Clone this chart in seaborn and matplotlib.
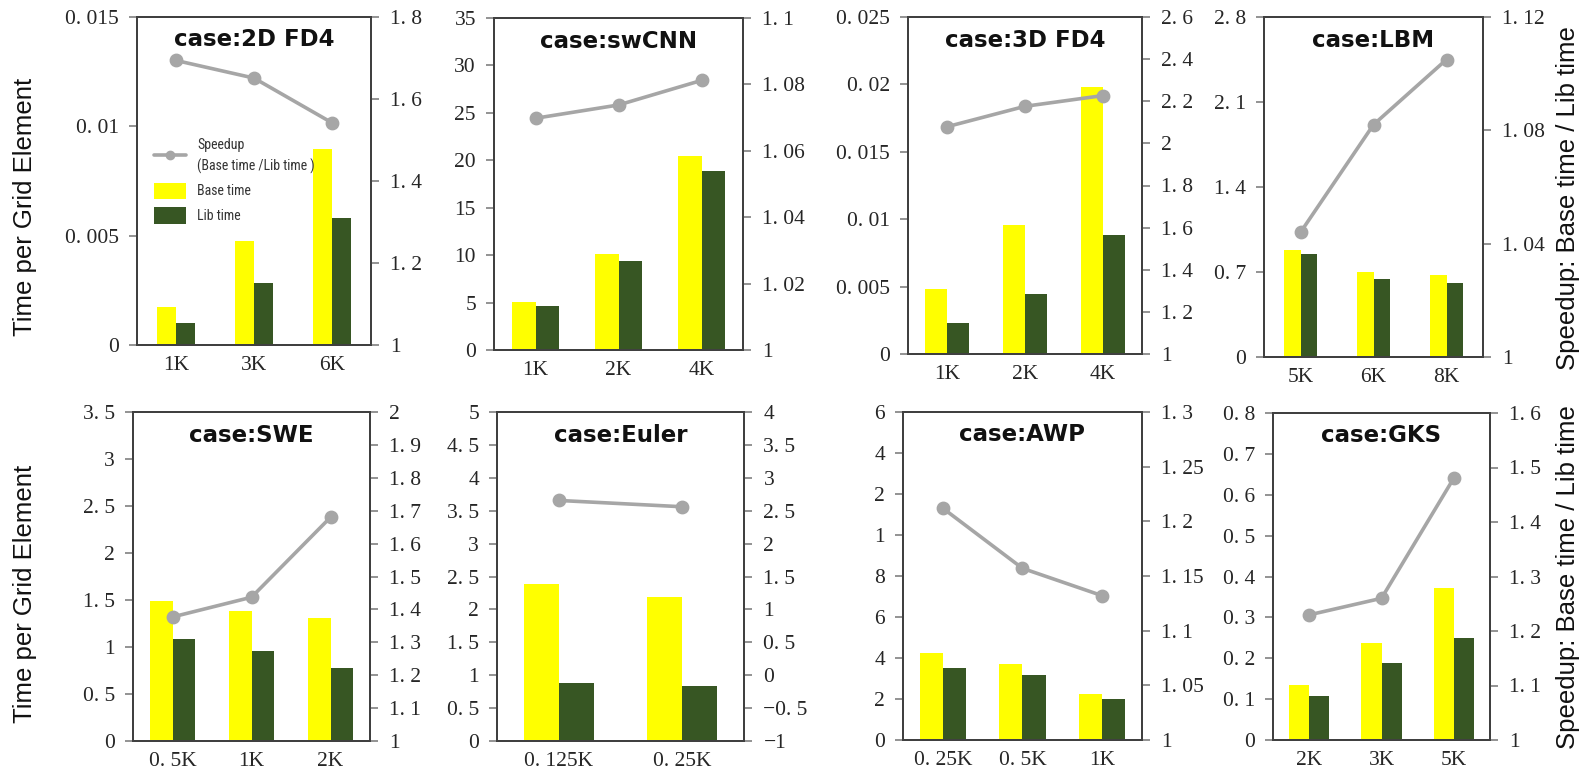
import matplotlib
matplotlib.use("Agg")
import matplotlib.pyplot as plt
import seaborn as sns
import pandas as pd
from matplotlib.lines import Line2D
from matplotlib.patches import Patch
from matplotlib import font_manager

sns.set_theme(style="white")
plt.rcParams['font.family'] = ['Liberation Serif', 'DejaVu Serif']

# ---------------- data ----------------
title_2dfd4 = "case:2D FD4"
cats_2dfd4 = ["1K", "3K", "6K"]
base_2dfd4 = [0.00174, 0.00477, 0.00895]
lib_2dfd4 = [0.00102, 0.00285, 0.0058]
speed_2dfd4 = [1.694, 1.651, 1.542]
lticks_2dfd4 = [0, 0.005, 0.01, 0.015]
rticks_2dfd4 = [1, 1.2, 1.4, 1.6, 1.8]

title_swcnn = "case:swCNN"
cats_swcnn = ["1K", "2K", "4K"]
base_swcnn = [5.07, 10.17, 20.44]
lib_swcnn = [4.68, 9.39, 18.82]
speed_swcnn = [1.0698, 1.0738, 1.0812]
lticks_swcnn = [0, 5, 10, 15, 20, 25, 30, 35]
rticks_swcnn = [1, 1.02, 1.04, 1.06, 1.08, 1.1]

title_3dfd4 = "case:3D FD4"
cats_3dfd4 = ["1K", "2K", "4K"]
base_3dfd4 = [0.00479, 0.00958, 0.01979]
lib_3dfd4 = [0.00233, 0.00442, 0.00884]
speed_3dfd4 = [2.079, 2.176, 2.227]
lticks_3dfd4 = [0, 0.005, 0.01, 0.015, 0.02, 0.025]
rticks_3dfd4 = [1, 1.2, 1.4, 1.6, 1.8, 2, 2.2, 2.4, 2.6]

title_lbm = "case:LBM"
cats_lbm = ["5K", "6K", "8K"]
base_lbm = [0.883, 0.70, 0.678]
lib_lbm = [0.85, 0.644, 0.611]
speed_lbm = [1.044, 1.082, 1.105]
lticks_lbm = [0, 0.7, 1.4, 2.1, 2.8]
rticks_lbm = [1, 1.04, 1.08, 1.12]

title_swe = "case:SWE"
cats_swe = ["0. 5K", "1K", "2K"]
base_swe = [1.493, 1.383, 1.305]
lib_swe = [1.082, 0.961, 0.773]
speed_swe = [1.377, 1.437, 1.680]
lticks_swe = [0, 0.5, 1, 1.5, 2, 2.5, 3, 3.5]
rticks_swe = [1, 1.1, 1.2, 1.3, 1.4, 1.5, 1.6, 1.7, 1.8, 1.9, 2]

title_euler = "case:Euler"
cats_euler = ["0. 125K", "0. 25K"]
base_euler = [2.393, 2.196]
lib_euler = [0.887, 0.832]
speed_euler = [2.656, 2.56]
lticks_euler = [0, 0.5, 1, 1.5, 2, 2.5, 3, 3.5, 4, 4.5, 5]
rticks_euler = [-1, -0.5, 0, 0.5, 1, 1.5, 2, 2.5, 3, 3.5, 4]

title_awp = "case:AWP"
cats_awp = ["0. 25K", "0. 5K", "1K"]
base_awp = [4.23, 3.69, 2.26]
lib_awp = [3.52, 3.19, 2.02]
speed_awp = [1.212, 1.157, 1.132]
lticks_awp = [0, 2, 4, 6, 8, 10, 12, 14, 16]
llabels_awp = ["0", "2", "4", "6", "8", "1", "2", "4", "6"]
rticks_awp = [1, 1.05, 1.1, 1.15, 1.2, 1.25, 1.3]

title_gks = "case:GKS"
cats_gks = ["2K", "3K", "5K"]
base_gks = [0.1347, 0.238, 0.371]
lib_gks = [0.1078, 0.1886, 0.2506]
speed_gks = [1.2296, 1.260, 1.4806]
lticks_gks = [0, 0.1, 0.2, 0.3, 0.4, 0.5, 0.6, 0.7, 0.8]
rticks_gks = [1, 1.1, 1.2, 1.3, 1.4, 1.5, 1.6]

series_names = ["Base time", "Lib time"]
line_label = "Speedup\n(Base time /Lib time )"
left_label = "Time per Grid Element"
right_label = "Speedup: Base time / Lib time"

# ---------------- style / layout ----------------
W, H = 1583, 773
palette = {"Base time": "#FFFF00", "Lib time": "#375623"}
line_color = "#A6A6A6"
spine_color = "#404040"
tick_color = "#808080"
label_color = "#262626"

installed = {f.name for f in font_manager.fontManager.ttflist}
narrow = None
for cand in ["Roboto Condensed", "Liberation Sans Narrow", "Open Sans Condensed", "DejaVu Sans Condensed"]:
    if cand in installed:
        narrow = cand
        break
if narrow is not None:
    leg_prop = {"family": [narrow, "DejaVu Sans"], "size": 10}
else:
    leg_prop = {"family": ["Liberation Sans", "DejaVu Sans"], "size": 8.5}


def fmt(v):
    if abs(v - round(v)) < 1e-9:
        s = str(int(round(v)))
    else:
        s = ("%.4f" % v).rstrip("0")
    s = s.replace(".", ". ")
    return s.replace("-", "\u2212")


panels = [
    (title_2dfd4, cats_2dfd4, base_2dfd4, lib_2dfd4, speed_2dfd4, lticks_2dfd4, None, rticks_2dfd4, (137, 17, 371, 345), 0.49),
    (title_swcnn, cats_swcnn, base_swcnn, lib_swcnn, speed_swcnn, lticks_swcnn, None, rticks_swcnn, (494, 18, 743, 350), 0.56),
    (title_3dfd4, cats_3dfd4, base_3dfd4, lib_3dfd4, speed_3dfd4, lticks_3dfd4, None, rticks_3dfd4, (908, 17, 1142, 354), 0.56),
    (title_lbm, cats_lbm, base_lbm, lib_lbm, speed_lbm, lticks_lbm, None, rticks_lbm, (1264, 17, 1483, 357), 0.46),
    (title_swe, cats_swe, base_swe, lib_swe, speed_swe, lticks_swe, None, rticks_swe, (133, 412, 370, 741), 0.57),
    (title_euler, cats_euler, base_euler, lib_euler, speed_euler, lticks_euler, None, rticks_euler, (497, 412, 744, 741), 0.57),
    (title_awp, cats_awp, base_awp, lib_awp, speed_awp, lticks_awp, llabels_awp, rticks_awp, (903, 412, 1142, 740), 0.58),
    (title_gks, cats_gks, base_gks, lib_gks, speed_gks, lticks_gks, None, rticks_gks, (1273, 413, 1490, 740), 0.56),
]

fig = plt.figure(figsize=(W / 100, H / 100), dpi=100)
fig.patch.set_facecolor("white")

for i, (title, cats, base, lib, speed, lt, ll, rt, box, bw) in enumerate(panels):
    l, t, r, b = box
    ax = fig.add_axes([l / W, 1 - b / H, (r - l) / W, (b - t) / H])
    n = len(cats)
    df = pd.DataFrame({
        "cat": cats * 2,
        "series": [series_names[0]] * n + [series_names[1]] * n,
        "val": list(base) + list(lib),
    })
    sns.barplot(data=df, x="cat", y="val", hue="series", order=cats,
                hue_order=series_names, palette=palette, width=bw, gap=0,
                saturation=1, linewidth=0, legend=False, ax=ax, errorbar=None)
    ax2 = ax.twinx()
    sns.pointplot(x=cats, y=speed, order=cats, color=line_color, markers="o",
                  markersize=8, linewidth=2.6, errorbar=None, ax=ax2)

    for a in (ax, ax2):
        a.set_xlim(-0.5, n - 0.5)
        a.set_xlabel("")
        a.set_ylabel("")
        for sp in a.spines.values():
            sp.set_visible(True)
            sp.set_color(spine_color)
            sp.set_linewidth(1.4)

    ax.set_ylim(lt[0], lt[-1])
    ax.set_yticks(lt)
    ax.set_yticklabels(ll if ll is not None else [fmt(v) for v in lt])
    ax2.set_ylim(rt[0], rt[-1])
    ax2.set_yticks(rt)
    ax2.set_yticklabels([fmt(v) for v in rt])

    ax.tick_params(axis="y", left=True, right=False, direction="out", length=6,
                   width=1.2, color=tick_color, labelsize=15.5, pad=7,
                   labelcolor=label_color)
    ax.tick_params(axis="x", bottom=False, length=0, labelsize=15.5, pad=8,
                   labelcolor=label_color)
    ax2.tick_params(axis="y", right=True, left=False, direction="out", length=6,
                    width=1.2, color=tick_color, labelsize=15.5, pad=8,
                    labelcolor=label_color)

    ax2.text(0.5, 0.93, title, transform=ax.transAxes, ha="center", va="center",
             fontsize=16.5, fontweight="bold", family=["DejaVu Sans"], color="#111111")

    if i == 0:
        handles = [
            Line2D([], [], color=line_color, lw=2.6, marker="o", markersize=6),
            Patch(facecolor=palette["Base time"], edgecolor="none"),
            Patch(facecolor=palette["Lib time"], edgecolor="none"),
        ]
        leg = ax2.legend(handles, [line_label] + series_names, loc="upper left",
                         bbox_to_anchor=(0.02, 0.67), frameon=False,
                         prop=leg_prop,
                         handlelength=2.3, handleheight=1.45, labelspacing=0.6,
                         handletextpad=0.8)
        for txt in leg.get_texts():
            txt.set_color("#333333")
            txt.set_linespacing(1.6)

# row labels
for yc in (0.732, 0.232):
    fig.text(0.016, yc, left_label, rotation=90, ha="center", va="center",
             fontsize=18.5, family=["Liberation Sans", "DejaVu Sans"], color="#111111")
for yc in (0.744, 0.253):
    fig.text(0.9905, yc, right_label, rotation=90, ha="center", va="center",
             fontsize=18.5, family=["Liberation Sans", "DejaVu Sans"], color="#111111")

fig.savefig("out.png", dpi=100, facecolor="white")
